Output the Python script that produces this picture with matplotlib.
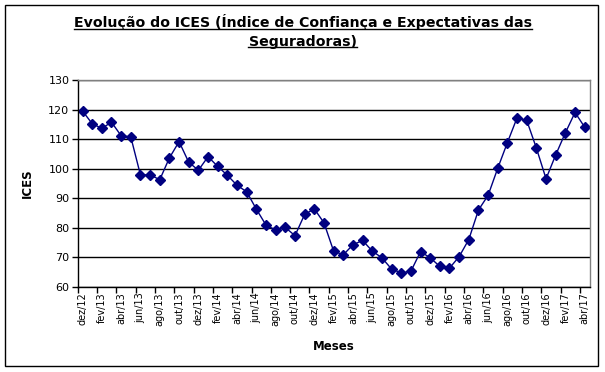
import matplotlib
matplotlib.use('Agg')
from matplotlib import pyplot as plt
from matplotlib.lines import Line2D
from matplotlib.patches import Rectangle

# monthly ICES values, dez/12 .. abr/17
months = ['dez/12', 'jan/13', 'fev/13', 'mar/13', 'abr/13', 'mai/13', 'jun/13', 'jul/13',
          'ago/13', 'set/13', 'out/13', 'nov/13', 'dez/13', 'jan/14', 'fev/14', 'mar/14',
          'abr/14', 'mai/14', 'jun/14', 'jul/14', 'ago/14', 'set/14', 'out/14', 'nov/14',
          'dez/14', 'jan/15', 'fev/15', 'mar/15', 'abr/15', 'mai/15', 'jun/15', 'jul/15',
          'ago/15', 'set/15', 'out/15', 'nov/15', 'dez/15', 'jan/16', 'fev/16', 'mar/16',
          'abr/16', 'mai/16', 'jun/16', 'jul/16', 'ago/16', 'set/16', 'out/16', 'nov/16',
          'dez/16', 'jan/17', 'fev/17', 'mar/17', 'abr/17']
ices = [119.6, 115.3, 113.7, 115.8, 111.2, 110.8, 97.9, 97.9,
        96.3, 103.7, 109.2, 102.2, 99.5, 104.1, 100.8, 97.8,
        94.4, 92.2, 86.3, 80.9, 79.2, 80.1, 77.3, 84.5,
        86.4, 81.7, 72.1, 70.8, 74.2, 75.7, 72.1, 69.8,
        66.0, 64.7, 65.2, 71.9, 69.8, 66.9, 66.3, 70.2,
        76.0, 86.0, 91.0, 100.2, 108.9, 117.3, 116.4, 107.0,
        96.6, 104.7, 112.2, 119.1, 114.1]

title1 = 'Evolução do ICES (Índice de Confiança e Expectativas das'
title2 = 'Seguradoras)'

plt.rcParams['font.family'] = 'DejaVu Sans'

fig = plt.figure(figsize=(6.05, 3.72), dpi=100)
ax = fig.add_axes([0.1284, 0.2293, 0.846, 0.5548])

x = range(len(ices))
ax.plot(x, ices, color='#000080', lw=1, marker='D', ms=5, mec='#000080', mfc='#000080')

ax.set_xlim(-0.5, len(ices) - 0.5)
ax.set_ylim(60, 130)
ax.set_yticks(range(60, 131, 10))
ax.yaxis.grid(True, color='black', lw=1)
ax.set_axisbelow(True)

ax.set_xticks(range(0, len(ices), 2))
ax.set_xticklabels(months[::2], rotation=90, fontsize=7)
ax.set_xticks([i - 0.5 for i in range(0, len(ices) + 1, 2)], minor=True)
ax.tick_params(axis='x', which='major', length=0, pad=4)
ax.tick_params(axis='x', which='minor', length=4, width=1, direction='out')
ax.tick_params(axis='y', length=4, width=1, labelsize=8, pad=2)

for s in ['top', 'right']:
    ax.spines[s].set_color('#808080')
    ax.spines[s].set_linewidth(1)
for s in ['left', 'bottom']:
    ax.spines[s].set_color('black')
    ax.spines[s].set_linewidth(1)

ax.set_ylabel('ICES', fontsize=8.5, fontweight='bold', labelpad=10.5)
ax.set_xlabel('Meses', fontsize=8.5, fontweight='bold', labelpad=10)

# outer chart frame
fig.patches.append(Rectangle((5 / 605, 1 - 366 / 372), 593 / 605, 361 / 372,
                             transform=fig.transFigure, fill=False, ec='black', lw=1))

t1 = fig.text(0.5, 1 - 22 / 372, title1, ha='center', va='center', fontsize=10.2, fontweight='bold')
t2 = fig.text(0.5, 1 - 42 / 372, title2, ha='center', va='center', fontsize=10.2, fontweight='bold')

# underline the title lines
fig.canvas.draw()
r = fig.canvas.get_renderer()
for t in (t1, t2):
    bb = t.get_window_extent(r).transformed(fig.transFigure.inverted())
    yl = bb.y0 + 1.5 / 372
    fig.add_artist(Line2D([bb.x0, bb.x1], [yl, yl], transform=fig.transFigure, color='black', lw=1))

fig.savefig('out.png', dpi=100)
